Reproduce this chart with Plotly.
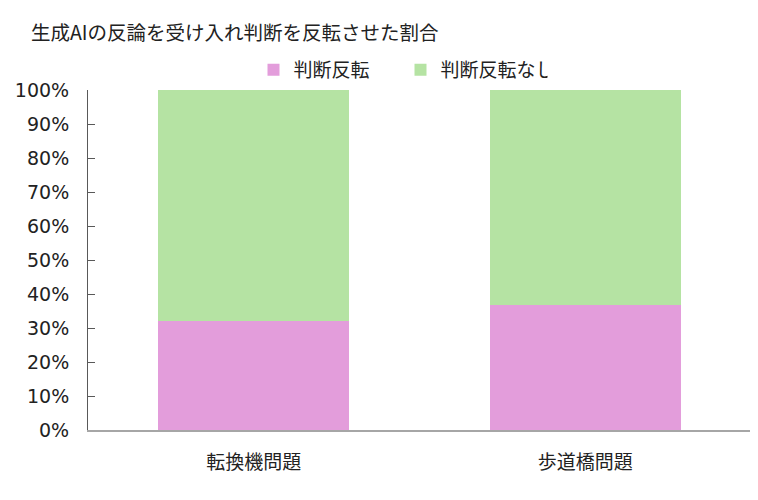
import plotly.graph_objects as go

categories = ["転換機問題", "歩道橋問題"]
series_names = ["判断反転", "判断反転なし"]
reversed_vals = [0.321, 0.368]
not_reversed_vals = [1 - v for v in reversed_vals]
colors = ["#E39DDB", "#B5E3A3"]
title_text = "生成AIの反論を受け入れ判断を反転させた割合"

FONT = "Noto Sans CJK JP"

# page body has an 8px margin; compensate
W, H = 750, 492
L, R, T, B = 74, 7, 82, 70
PW = W - L - R

fig = go.Figure()
fig.add_trace(go.Bar(x=categories, y=reversed_vals, name=series_names[0],
                     marker=dict(color=colors[0], line=dict(width=0)),
                     hoverinfo="skip"))
fig.add_trace(go.Bar(x=categories, y=not_reversed_vals, name=series_names[1],
                     marker=dict(color=colors[1], line=dict(width=0)),
                     hoverinfo="skip"))

fig.update_layout(
    width=W, height=H,
    barmode="stack", bargap=0.425,
    paper_bgcolor="white", plot_bgcolor="white",
    margin=dict(l=L, r=R, t=T, b=B),
    font=dict(family=FONT, size=19, color="#222222"),
    title=dict(text=title_text, x=23/W, xanchor="left", xref="container",
               y=1 - 25/H, yanchor="middle", yref="container",
               font=dict(family=FONT, size=19.5, color="#222222")),
    showlegend=True,
    legend=dict(orientation="h", x=(241 - L)/PW, xanchor="left", xref="paper",
                y=1 + 20/340, yanchor="middle",
                font=dict(family=FONT, size=19, color="#222222"),
                entrywidth=102, entrywidthmode="pixels",
                traceorder="normal", bgcolor="rgba(0,0,0,0)"),
)
fig.update_xaxes(showline=True, linecolor="#A6A6A6", linewidth=2,
                 ticks="", showgrid=False, ticklabelstandoff=14,
                 tickfont=dict(family=FONT, size=19, color="#222222"))
fig.update_yaxes(range=[0, 1], dtick=0.1, tickformat=".0%",
                 showline=True, linecolor="#595959", linewidth=1,
                 ticks="inside", ticklen=7, tickcolor="#595959",
                 showgrid=False, zeroline=False, ticklabelstandoff=14,
                 tickfont=dict(family="DejaVu Sans", size=19, color="#222222"))

fig.write_html("out.html")
